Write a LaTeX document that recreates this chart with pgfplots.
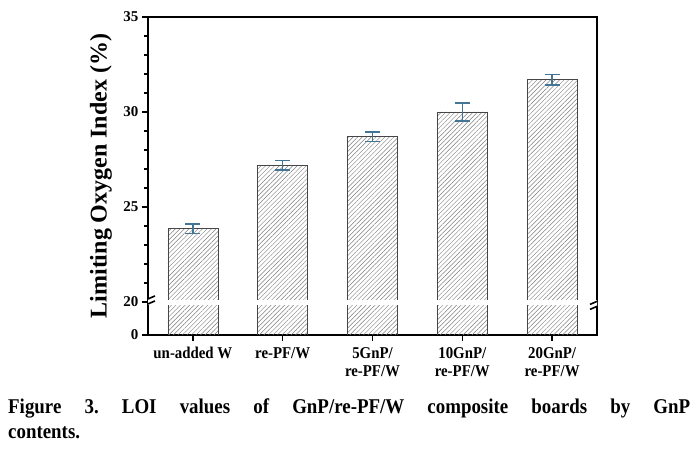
\documentclass[border=0pt]{standalone}
\usepackage{fontspec}
\setmainfont{Liberation Serif}
\newfontfamily\capfont{Liberation Serif}[FakeStretch=0.9]
\newfontfamily\tickfont{Liberation Serif}[FakeStretch=0.9]
\usepackage{pgfplots}
\pgfplotsset{compat=1.18}
\usetikzlibrary{patterns.meta}
\definecolor{errc}{RGB}{66,118,148}
\definecolor{barpat}{RGB}{125,125,125}
\definecolor{baredge}{RGB}{70,70,70}
\frenchspacing
\begin{document}
\begin{tikzpicture}
\useasboundingbox (0,0) rectangle (698pt,454pt);
\begin{axis}[
  at={(148pt,119pt)}, anchor=south west,
  scale only axis, width=449pt, height=318pt,
  xmin=-0.5, xmax=4.5, ymin=18.263, ymax=35,
  axis line style={line width=1.6pt},
  xtick={0,1,2,3,4},
  xticklabels={un-added W, re-PF/W, {5GnP/\\re-PF/W}, {10GnP/\\re-PF/W}, {20GnP/\\re-PF/W}},
  xticklabel style={align=center, font=\tickfont\bfseries\fontsize{16.5}{18}\selectfont, yshift=-3pt},
  ytick={18.263,20,25,30,35},
  yticklabels={0,20,25,30,35},
  minor ytick={21,22,23,24,26,27,28,29,31,32,33,34},
  yticklabel style={font=\bfseries\fontsize{15}{15}\selectfont},
  xtick pos=bottom, ytick pos=left, tick align=outside,
  major tick length=6pt, minor tick length=4pt,
  every tick/.style={line width=1.5pt, black},
  ylabel={Limiting Oxygen Index (\%)},
  ylabel style={at={(axis description cs:-0.105,0.5)}, anchor=center, font=\bfseries\fontsize{24}{24}\selectfont},
  ybar, bar width=50pt,
  clip=true,
]
\addplot[draw=baredge, line width=0.8pt, pattern={Lines[angle=45,distance=3.2pt,line width=0.45pt]}, pattern color=barpat,
  error bars/.cd, y dir=both, y explicit,
  error bar style={line width=1.5pt, color=errc},
  error mark options={rotate=90, mark size=7.5pt, line width=1.5pt, errc}]
  coordinates {
  (0,23.85) +- (0,0.25)
  (1,27.2) +- (0,0.26)
  (2,28.7) +- (0,0.25)
  (3,30.0) +- (0,0.47)
  (4,31.7) +- (0,0.27)
  };
\fill[white] (axis cs:-0.5,19.84) rectangle (axis cs:4.5,20.10);
% break marks
\fill[white] ([xshift=-7pt,yshift=-5.5pt]axis cs:-0.5,20.03) -- ([xshift=7pt,yshift=0.5pt]axis cs:-0.5,20.03) -- ([xshift=7pt,yshift=5.5pt]axis cs:-0.5,20.03) -- ([xshift=-7pt,yshift=-0.5pt]axis cs:-0.5,20.03) -- cycle;
\draw[line width=1.6pt] ([xshift=-7pt,yshift=-5.5pt]axis cs:-0.5,20.03) -- ([xshift=7pt,yshift=0.5pt]axis cs:-0.5,20.03);
\draw[line width=1.6pt] ([xshift=-7pt,yshift=-0.5pt]axis cs:-0.5,20.03) -- ([xshift=7pt,yshift=5.5pt]axis cs:-0.5,20.03);
\fill[white] ([xshift=-7pt,yshift=-5.5pt]axis cs:4.5,19.9) -- ([xshift=7pt,yshift=0.5pt]axis cs:4.5,19.9) -- ([xshift=7pt,yshift=5.5pt]axis cs:4.5,19.9) -- ([xshift=-7pt,yshift=-0.5pt]axis cs:4.5,19.9) -- cycle;
\draw[line width=1.6pt] ([xshift=-7pt,yshift=-5.5pt]axis cs:4.5,19.9) -- ([xshift=7pt,yshift=0.5pt]axis cs:4.5,19.9);
\draw[line width=1.6pt] ([xshift=-7pt,yshift=-0.5pt]axis cs:4.5,19.9) -- ([xshift=7pt,yshift=5.5pt]axis cs:4.5,19.9);
\end{axis}
\node[anchor=base west, inner sep=0pt, font=\capfont\bfseries\fontsize{21}{25}\selectfont] at (8pt,40pt) {\makebox[682pt][s]{Figure 3. LOI values of GnP/re-PF/W composite boards by GnP}};
\node[anchor=base west, inner sep=0pt, font=\capfont\bfseries\fontsize{21}{25}\selectfont] at (8pt,15pt) {contents.};
\end{tikzpicture}
\end{document}
